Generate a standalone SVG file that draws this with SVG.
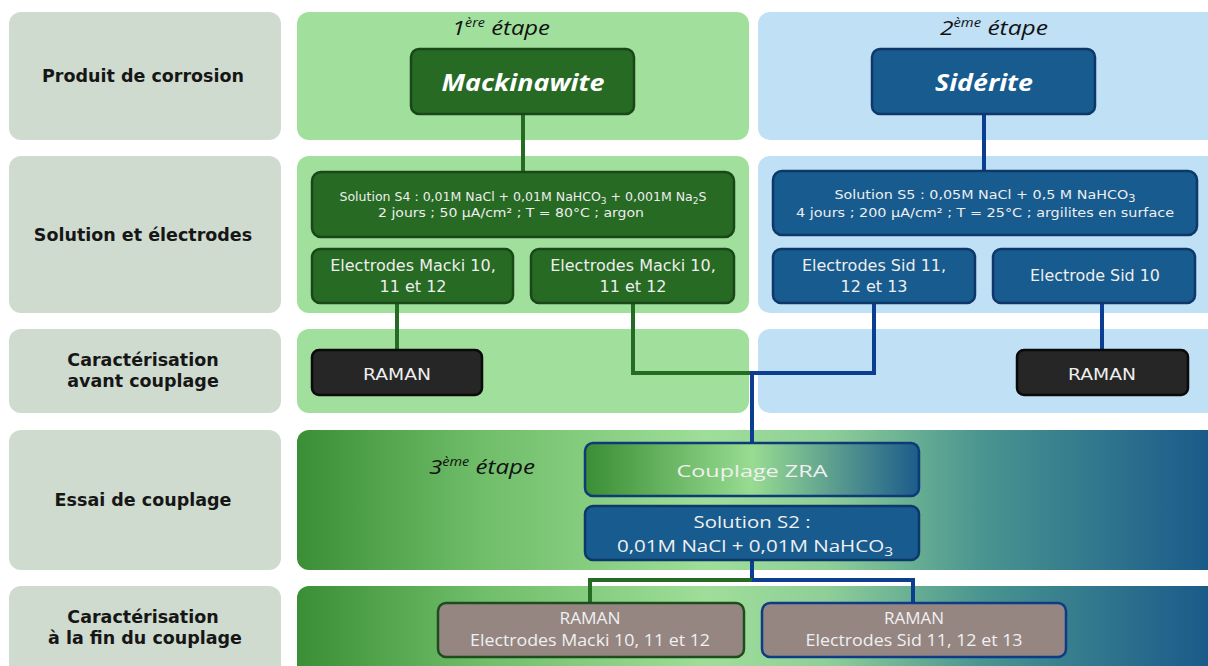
<svg xmlns="http://www.w3.org/2000/svg" width="1208" height="666" viewBox="0 0 1208 666">
<defs>
<linearGradient id="gRow" x1="297" y1="0" x2="1208" y2="0" gradientUnits="userSpaceOnUse">
<stop offset="0" stop-color="#3a8e35"/>
<stop offset="0.2" stop-color="#6fbd69"/>
<stop offset="0.45" stop-color="#9fde99"/>
<stop offset="0.58" stop-color="#8fcf98"/>
<stop offset="0.75" stop-color="#4a9590"/>
<stop offset="1" stop-color="#1a5a8a"/>
</linearGradient>
<linearGradient id="gZRA" x1="0" y1="0" x2="1" y2="0">
<stop offset="0" stop-color="#3a8e34"/>
<stop offset="0.5" stop-color="#98dc92"/>
<stop offset="1" stop-color="#1c5c8b"/>
</linearGradient>
<style>
.lp{fill:#cfdbcf}
.gp{fill:#a1df9d}
.bp{fill:#bfe0f5}
.gb{fill:#266a23;stroke:#1a4718;stroke-width:2.5}
.bb{fill:#175b8f;stroke:#0e386a;stroke-width:2.5}
.rb{fill:#262626;stroke:#0a0a0a;stroke-width:2.5}
.lab{font-family:"DejaVu Sans",sans-serif;font-weight:bold;font-size:17.5px;fill:#161616;text-anchor:middle}
.bt{font-family:"DejaVu Sans",sans-serif;font-size:16px;fill:#eeeeee;text-anchor:middle}
.st{font-family:"DejaVu Sans",sans-serif;font-size:12.5px;fill:#eeeeee;text-anchor:middle}
.ct{font-family:"Open Sans",sans-serif;font-size:16px;fill:#f0f0f0;text-anchor:middle}
.tt{font-family:"Open Sans",sans-serif;font-weight:bold;font-style:italic;font-size:24px;fill:#ffffff;text-anchor:middle}
.et{font-family:"Open Sans",sans-serif;font-style:italic;font-size:20px;fill:#111111;text-anchor:middle}
.gl{fill:none;stroke:#256b23;stroke-width:4}
.bl{fill:none;stroke:#0b3d91;stroke-width:4}
</style>
</defs>

<g id="row-labels">
<rect class="lp" x="9" y="12" width="272" height="128" rx="12"/>
<rect class="lp" x="9" y="156" width="272" height="157" rx="12"/>
<rect class="lp" x="9" y="329" width="272" height="84" rx="12"/>
<rect class="lp" x="9" y="430" width="272" height="140" rx="12"/>
<rect class="lp" x="9" y="586" width="272" height="100" rx="12"/>
<text class="lab" x="143" y="82">Produit de corrosion</text>
<text class="lab" x="143" y="241">Solution et électrodes</text>
<text class="lab" x="143" y="366">Caractérisation</text>
<text class="lab" x="143" y="387">avant couplage</text>
<text class="lab" x="143" y="506">Essai de couplage</text>
<text class="lab" x="143" y="623">Caractérisation</text>
<text class="lab" x="145" y="644">à la fin du couplage</text>
</g>

<g id="panels">
<rect class="gp" x="297" y="12" width="452" height="128" rx="12"/>
<rect class="bp" x="758" y="12" width="462" height="128" rx="12"/>
<rect class="gp" x="297" y="156" width="452" height="157" rx="12"/>
<rect class="bp" x="758" y="156" width="462" height="157" rx="12"/>
<rect class="gp" x="297" y="329" width="452" height="84" rx="12"/>
<rect class="bp" x="758" y="329" width="462" height="84" rx="12"/>
<rect x="297" y="430" width="923" height="140" rx="12" fill="url(#gRow)"/>
<rect x="297" y="586" width="923" height="100" rx="12" fill="url(#gRow)"/>
<text class="et" x="501" y="35" textLength="98" lengthAdjust="spacingAndGlyphs">1<tspan font-size="12" dy="-8">ère</tspan><tspan dy="8"> étape</tspan></text>
<text class="et" x="994" y="35" textLength="108" lengthAdjust="spacingAndGlyphs">2<tspan font-size="12" dy="-8">ème</tspan><tspan dy="8"> étape</tspan></text>
<text class="et" x="482" y="474" textLength="106" lengthAdjust="spacingAndGlyphs">3<tspan font-size="12" dy="-8">ème</tspan><tspan dy="8"> étape</tspan></text>
</g>

<g id="connectors">
<path class="gl" d="M523 114 V172"/>
<path class="bl" d="M984 114 V171"/>
<path class="gl" d="M397 303 V350"/>
<path class="bl" d="M1102 303 V350"/>
<path class="gl" d="M633 303 V373 H752"/>
<path class="bl" d="M874 303 V373 H752 V443"/>
<path class="bl" d="M752 560 V580 H913 V603"/>
<path class="gl" d="M752 580 H590 V603"/>
</g>

<g id="mackinawite">
<rect class="gb" x="411" y="49" width="223" height="65" rx="8"/>
<text class="tt" x="523" y="91" textLength="163" lengthAdjust="spacingAndGlyphs">Mackinawite</text>
</g>
<g id="siderite">
<rect class="bb" x="872" y="49" width="223" height="65" rx="8"/>
<text class="tt" x="984" y="91" textLength="98" lengthAdjust="spacingAndGlyphs">Sidérite</text>
</g>

<g id="solution-s4">
<rect class="gb" x="312" y="172" width="422" height="65" rx="9"/>
<text class="st" x="523" y="201" textLength="367" lengthAdjust="spacingAndGlyphs">Solution S4 : 0,01M NaCl + 0,01M NaHCO<tspan font-size="9" dy="3">3</tspan><tspan dy="-3"> + 0,001M Na</tspan><tspan font-size="9" dy="3">2</tspan><tspan dy="-3">S</tspan></text>
<text class="st" x="511" y="217" textLength="266" lengthAdjust="spacingAndGlyphs">2 jours ; 50 µA/cm² ; T = 80°C ; argon</text>
</g>
<g id="macki-left">
<rect class="gb" x="312" y="249" width="201" height="54" rx="8"/>
<text class="bt" x="413" y="271">Electrodes Macki 10,</text>
<text class="bt" x="413" y="292">11 et 12</text>
</g>
<g id="macki-right">
<rect class="gb" x="531" y="249" width="203" height="54" rx="8"/>
<text class="bt" x="633" y="271">Electrodes Macki 10,</text>
<text class="bt" x="633" y="292">11 et 12</text>
</g>

<g id="solution-s5">
<rect class="bb" x="773" y="171" width="424" height="64" rx="9"/>
<text class="st" x="985" y="199" font-size="14" textLength="301" lengthAdjust="spacingAndGlyphs">Solution S5 : 0,05M NaCl + 0,5 M NaHCO<tspan font-size="10" dy="3">3</tspan></text>
<text class="st" x="985" y="217" font-size="14" textLength="378" lengthAdjust="spacingAndGlyphs">4 jours ; 200 µA/cm² ; T = 25°C ; argilites en surface</text>
</g>
<g id="sid-left">
<rect class="bb" x="773" y="249" width="202" height="54" rx="8"/>
<text class="bt" x="874" y="271">Electrodes Sid 11,</text>
<text class="bt" x="874" y="292">12 et 13</text>
</g>
<g id="sid-right">
<rect class="bb" x="993" y="249" width="202" height="54" rx="8"/>
<text class="bt" x="1095" y="281" textLength="130" lengthAdjust="spacingAndGlyphs">Electrode Sid 10</text>
</g>

<g id="raman-left">
<rect class="rb" x="312" y="350" width="170" height="45" rx="7"/>
<text class="bt" x="397" y="380" font-size="17" textLength="68" lengthAdjust="spacingAndGlyphs">RAMAN</text>
</g>
<g id="raman-right">
<rect class="rb" x="1017" y="350" width="171" height="45" rx="7"/>
<text class="bt" x="1102" y="380" font-size="17" textLength="68" lengthAdjust="spacingAndGlyphs">RAMAN</text>
</g>

<g id="couplage-zra">
<rect x="585" y="443" width="334" height="53" rx="8" fill="url(#gZRA)" stroke="#0e3a78" stroke-width="2.5"/>
<text class="ct" x="752" y="477" font-size="21" textLength="151" lengthAdjust="spacingAndGlyphs">Couplage ZRA</text>
</g>
<g id="solution-s2">
<rect class="bb" x="585" y="506" width="334" height="54" rx="8"/>
<text class="ct" x="752" y="528" font-size="18" textLength="117" lengthAdjust="spacingAndGlyphs">Solution S2 :</text>
<text class="ct" x="755" y="552" font-size="18" textLength="276" lengthAdjust="spacingAndGlyphs">0,01M NaCl + 0,01M NaHCO<tspan font-size="12" dy="4">3</tspan></text>
</g>

<g id="raman-macki-end">
<rect x="438" y="603" width="306" height="54" rx="8" fill="#958682" stroke="#1f4c1c" stroke-width="2.5"/>
<text class="ct" x="590" y="624" textLength="61" lengthAdjust="spacingAndGlyphs">RAMAN</text>
<text class="ct" x="590" y="646" textLength="240" lengthAdjust="spacingAndGlyphs">Electrodes Macki 10, 11 et 12</text>
</g>
<g id="raman-sid-end">
<rect x="762" y="603" width="304" height="54" rx="8" fill="#958682" stroke="#0e3a86" stroke-width="2.5"/>
<text class="ct" x="914" y="624" textLength="60" lengthAdjust="spacingAndGlyphs">RAMAN</text>
<text class="ct" x="914" y="646" textLength="217" lengthAdjust="spacingAndGlyphs">Electrodes Sid 11, 12 et 13</text>
</g>
</svg>
